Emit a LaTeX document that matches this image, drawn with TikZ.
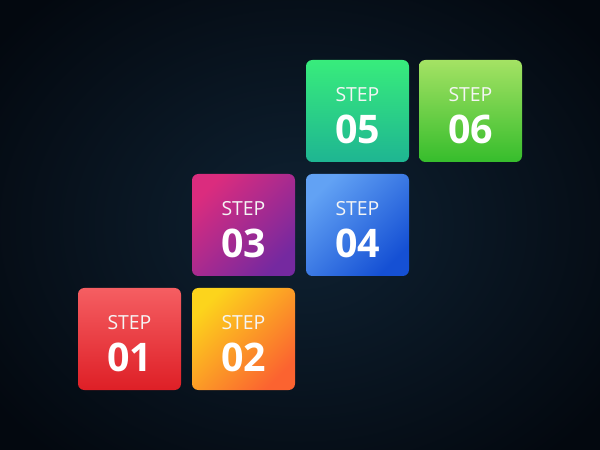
\documentclass[tikz,border=0pt]{standalone}
\usepackage{fontspec}
\setmainfont{Open Sans}
\usetikzlibrary{positioning}
\definecolor{bginner}{HTML}{0F2233}
\definecolor{bgouter}{HTML}{03080F}
\definecolor{redA}{HTML}{F55E62}
\definecolor{redB}{HTML}{DE1F26}
\definecolor{orangeA}{HTML}{FCD41C}
\definecolor{orangeB}{HTML}{FB6330}
\definecolor{purpleA}{HTML}{DB2C7E}
\definecolor{purpleB}{HTML}{7529A0}
\definecolor{blueA}{HTML}{62A2F4}
\definecolor{blueB}{HTML}{1550D4}
\definecolor{greenA}{HTML}{38EC7C}
\definecolor{greenB}{HTML}{1EB592}
\definecolor{limeA}{HTML}{A4E264}
\definecolor{limeB}{HTML}{36BD2C}
\tikzset{stepbox/.style n args={3}{
    rectangle, rounded corners=4.5pt,
    minimum width=2.575cm, minimum height=2.55cm,
    top color=#1, bottom color=#2, shading angle=#3
  },
  steptext/.style={text=white!92!gray, font=\fontsize{13.8}{15}\selectfont},
  stepnum/.style={text=white, font=\fontsize{28}{30}\selectfont\bfseries}
}

\begin{document}
\begin{tikzpicture}
      \useasboundingbox (0,0) rectangle (15,11.25);
      \shade[inner color=bginner, outer color=bgouter] (-2,-2) rectangle (17,13.25);
      \node[stepbox={redA}{redB}{0}] (b1) at (3.2375,2.775) {};
      \node[stepbox={orangeA}{orangeB}{45}] (b2) at (6.0875,2.775) {};
      \node[stepbox={purpleA}{purpleB}{45}] (b3) at (6.0875,5.625) {};
      \node[stepbox={blueA}{blueB}{45}] (b4) at (8.9375,5.625) {};
      \node[stepbox={greenA}{greenB}{0}] (b5) at (8.9375,8.475) {};
      \node[stepbox={limeA}{limeB}{0}] (b6) at (11.7625,8.475) {};
      \node[steptext] (t1) at ([yshift=.42cm]b1.center) {STEP};
      \node[stepnum] (n1) at ([yshift=-.45cm]b1.center) {01};
      \node[steptext] (t2) at ([yshift=.42cm]b2.center) {STEP};
      \node[stepnum] (n2) at ([yshift=-.45cm]b2.center) {02};
      \node[steptext] (t3) at ([yshift=.42cm]b3.center) {STEP};
      \node[stepnum] (n3) at ([yshift=-.45cm]b3.center) {03};
      \node[steptext] (t4) at ([yshift=.42cm]b4.center) {STEP};
      \node[stepnum] (n4) at ([yshift=-.45cm]b4.center) {04};
      \node[steptext] (t5) at ([yshift=.42cm]b5.center) {STEP};
      \node[stepnum] (n5) at ([yshift=-.45cm]b5.center) {05};
      \node[steptext] (t6) at ([yshift=.42cm]b6.center) {STEP};
      \node[stepnum] (n6) at ([yshift=-.45cm]b6.center) {06};
\end{tikzpicture}
\end{document}
